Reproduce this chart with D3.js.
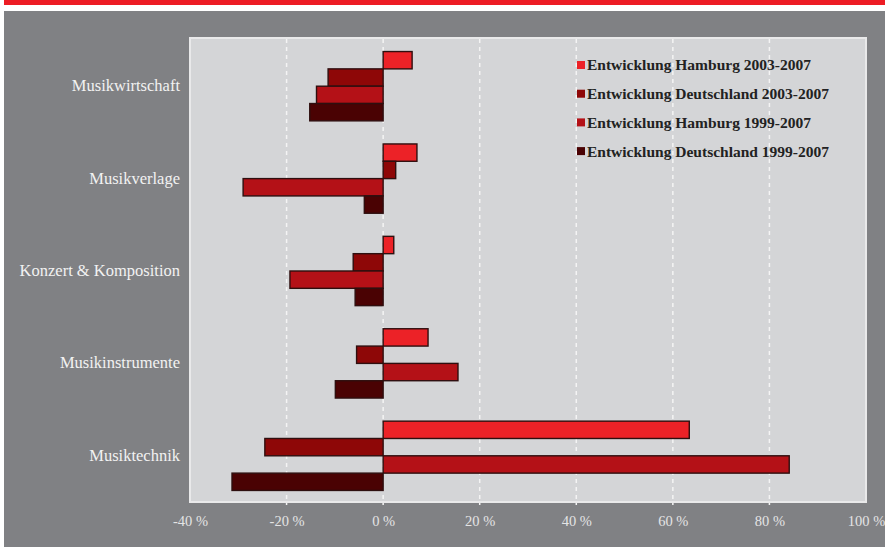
<!DOCTYPE html>
<html>
<head>
<meta charset="utf-8">
<script src="https://cdn.jsdelivr.net/npm/d3@7"></script>
<style>
  html, body { margin: 0; padding: 0; background: #ffffff; }
  svg { display: block; }
</style>
</head>
<body>
<svg id="chart" width="885" height="547"></svg>
<script>
// Branchen der Musikwirtschaft, Veränderung in Prozent
const categories = ["Musikwirtschaft", "Musikverlage", "Konzert & Komposition", "Musikinstrumente", "Musiktechnik"];
const seriesNames = [
  "Entwicklung Hamburg 2003-2007",
  "Entwicklung Deutschland 2003-2007",
  "Entwicklung Hamburg 1999-2007",
  "Entwicklung Deutschland 1999-2007"
];
const hamburg0307     = [6, 7, 2.2, 9.3, 63.4];
const deutschland0307 = [-11.4, 2.6, -6.2, -5.5, -24.5];
const hamburg9907     = [-13.8, -29, -19.3, 15.5, 84.1];
const deutschland9907 = [-15.2, -3.9, -5.8, -9.9, -31.3];
const seriesColors = ["#ec2227", "#8e0707", "#b41117", "#4a0203"];
const tickValues = [-40, -20, 0, 20, 40, 60, 80, 100];

const seriesValues = [hamburg0307, deutschland0307, hamburg9907, deutschland9907];

const svg = d3.select("#chart");

// Page frame: red band on top, grey field below
svg.append("rect").attr("x", 4).attr("y", 0).attr("width", 881).attr("height", 5).attr("fill", "#ed1c24");
svg.append("rect").attr("x", 4).attr("y", 11).attr("width", 881).attr("height", 536).attr("fill", "#808184");

const x = d3.scaleLinear().domain([-40, 100]).range([190, 866]);
const y = d3.scaleBand().domain(categories).range([40, 502]).paddingInner(0.25).paddingOuter(0.125);
const ySub = d3.scaleBand().domain(seriesNames).range([0, y.bandwidth()]);

// Plot panel
svg.append("rect")
  .attr("x", x(-40)).attr("y", 38)
  .attr("width", x(100) - x(-40)).attr("height", 464)
  .attr("fill", "#d4d5d7")
  .attr("stroke", "#e9e9ea").attr("stroke-width", 2);

// Dashed vertical grid lines
svg.append("g")
  .selectAll("line")
  .data(tickValues.filter(v => v > -40 && v < 100))
  .join("line")
  .attr("x1", d => x(d)).attr("x2", d => x(d))
  .attr("y1", 39).attr("y2", 505)
  .attr("stroke", "#f4f4f4")
  .attr("stroke-width", 1.5)
  .attr("stroke-dasharray", "4,4");

// Bars
const rows = [];
categories.forEach((c, i) => {
  seriesNames.forEach((s, j) => {
    rows.push({ category: c, series: s, value: seriesValues[j][i], color: seriesColors[j] });
  });
});

svg.append("g")
  .selectAll("rect")
  .data(rows)
  .join("rect")
  .attr("x", d => x(Math.min(0, d.value)))
  .attr("y", d => y(d.category) + ySub(d.series))
  .attr("width", d => Math.abs(x(d.value) - x(0)))
  .attr("height", ySub.bandwidth())
  .attr("fill", d => d.color)
  .attr("stroke", "#2e0f0f")
  .attr("stroke-width", 1.4);

// Category labels
svg.append("g")
  .selectAll("text")
  .data(categories)
  .join("text")
  .attr("x", 180)
  .attr("y", d => y(d) + y.bandwidth() / 2)
  .attr("dy", "0.3em")
  .attr("text-anchor", "end")
  .attr("font-family", "'Liberation Serif', 'DejaVu Serif', serif")
  .attr("font-size", 16.5)
  .attr("fill", "#f2f2f2")
  .text(d => d);

// X axis with percentage labels
const xAxis = d3.axisBottom(x)
  .tickValues(tickValues)
  .tickSize(0)
  .tickPadding(0)
  .tickFormat(d => `${d} %`);

const gx = svg.append("g").attr("transform", "translate(0,526)").call(xAxis);
gx.select(".domain").remove();
gx.selectAll("text")
  .attr("dy", 0)
  .attr("font-family", "'Liberation Serif', 'DejaVu Serif', serif")
  .attr("font-size", 14.5)
  .attr("fill", "#e4e4e4");

// Legend
const legend = svg.append("g")
  .selectAll("g")
  .data(seriesNames)
  .join("g")
  .attr("transform", (d, i) => `translate(577, ${65 + i * 28.7})`);

legend.append("rect")
  .attr("x", 0).attr("y", -4)
  .attr("width", 8).attr("height", 8)
  .attr("fill", (d, i) => seriesColors[i]);

legend.append("text")
  .attr("x", 10)
  .attr("dy", "0.35em")
  .attr("font-family", "'Liberation Serif', 'DejaVu Serif', serif")
  .attr("font-weight", "bold")
  .attr("font-size", 15.5)
  .attr("fill", "#222222")
  .text(d => d);
</script>
</body>
</html>
